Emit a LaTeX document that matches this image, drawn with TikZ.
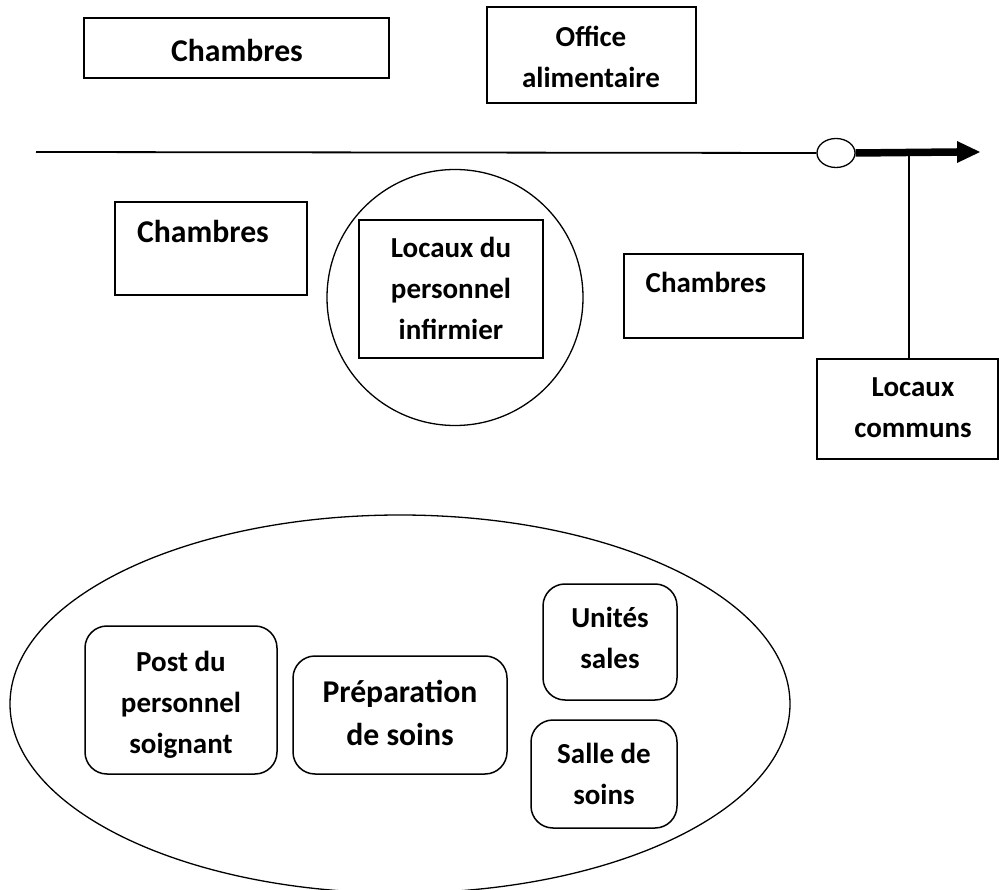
\documentclass[tikz,border=0pt]{standalone}
\usepackage{fontspec}
\setmainfont{Carlito}
\usetikzlibrary{shapes.geometric}
\begin{document}
\begin{tikzpicture}[x=1pt,y=-1pt,
  box/.style={draw,line width=1.5pt,inner sep=0pt,minimum width=#1},
  rbox/.style={draw,line width=1.5pt,inner sep=0pt,rounded corners=22pt,minimum width=#1},
  lbl/.style={anchor=base,inner sep=0pt,align=center,font=\bfseries\fontsize{29}{41}\selectfont},
  biglbl/.style={anchor=base,inner sep=0pt,align=center,font=\bfseries\fontsize{31.7}{43}\selectfont},
  thin/.style={line width=1.8pt},
  ring/.style={draw,line width=1.3pt}]
\useasboundingbox (0,0) rectangle (999,890);
% boxes above the corridor
\node[box=305pt,minimum height=60pt] (ch1) at (236.5,48) {};
\node[biglbl] (ch1t) at (237,62) {Chambres};
\node[box=209pt,minimum height=96pt] (off) at (591.5,55) {};
\node[lbl] (offt) at (591,88) {Office\\alimentaire};
% corridor
\node[ellipse,ring,fill=white,minimum width=38pt,minimum height=29pt,inner sep=0pt] (hub) at (836,153) {};
\coordinate (start) at (36,152);
\coordinate (headbase) at (957,152);
\coordinate (tip) at (980,152);
\coordinate (j) at (909,152);
\draw[thin] (start) -- (hub.west);
% boxes below the corridor
\node[box=192pt,minimum height=93pt] (ch2) at (211,248.5) {};
\node[biglbl] (ch2t) at (203,243) {Chambres};
\node[circle,ring,minimum size=256pt,inner sep=0pt] (circ) at (455,297.5) {};
\node[box=184pt,minimum height=138pt] (loc) at (451,289) {};
\node[lbl] (loct) at (451,340) {Locaux du\\personnel\\infirmier};
\node[box=179pt,minimum height=84pt] (ch3) at (713.5,296) {};
\node[lbl] (ch3t) at (706,293) {Chambres};
\node[box=181pt,minimum height=100pt] (lc) at (907.5,409) {};
\node[lbl] (lct) at (913,438) {Locaux\\communs};
\draw[thin] (j) -- (j |- lc.north);
\draw[line width=7.5pt] (hub.east) -- (headbase);
\fill (tip) -- ++(-23,-11) -- ++(0,22) -- cycle;
% care unit
\node[ellipse,ring,minimum width=780pt,minimum height=378pt,inner sep=0pt] (unit) at (400,704) {};
\node[rbox=192pt,minimum height=148pt] (post) at (181,700) {};
\node[lbl] (postt) at (181,753) {Post du\\personnel\\soignant};
\node[rbox=214pt,minimum height=118pt] (prep) at (400,715) {};
\node[biglbl] (prept) at (400,745) {Préparation\\de soins};
\node[rbox=134pt,minimum height=116pt] (us) at (610,642) {};
\node[lbl] (ust) at (610,668) {Unités\\sales};
\node[rbox=146pt,minimum height=108pt] (ss) at (604,774) {};
\node[lbl] (sst) at (604,804) {Salle de\\soins};
\end{tikzpicture}
\end{document}
